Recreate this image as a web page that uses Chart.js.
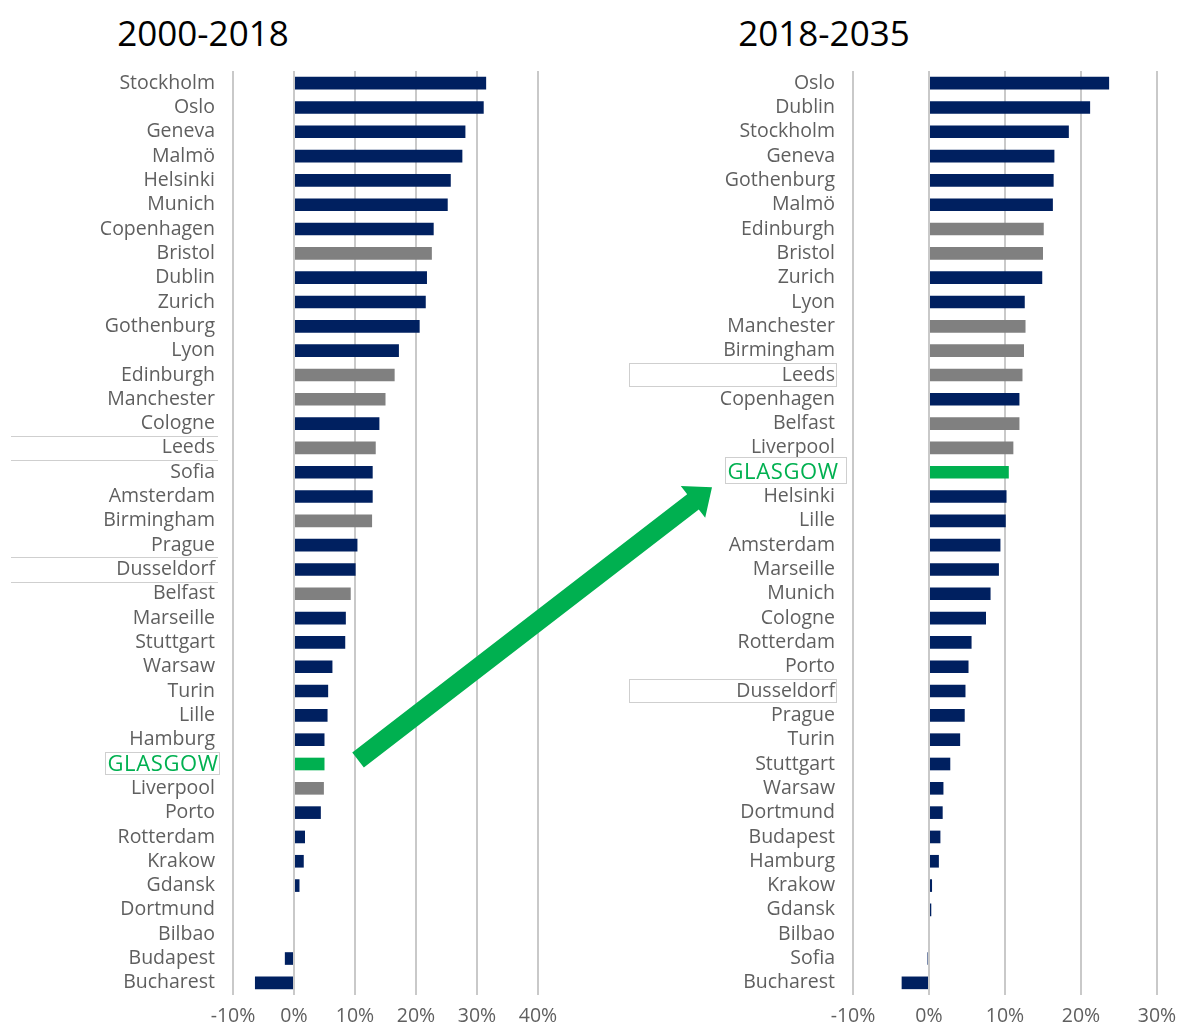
<!DOCTYPE html>
<html>
<head>
<meta charset="utf-8">
<script src="https://cdn.jsdelivr.net/npm/chart.js@4.4.1/dist/chart.umd.min.js"></script>
<style>
  html, body { margin:0; padding:0; background:#ffffff; }
  #wrap { position:relative; width:1179px; height:1027px; overflow:hidden; }
  .layer { position:absolute; left:0; top:0; width:1179px; height:1027px; }
  .title { position:absolute; font-family:"Open Sans", sans-serif; font-size:35px; color:#000; line-height:1; transform:translateX(-50%); white-space:nowrap; }
</style>
</head>
<body>
<div id="wrap">
  <div class="title" style="left:203px; top:15px;">2000-2018</div>
  <div class="title" style="left:824px; top:15px;">2018-2035</div>
  <canvas id="leftChart" class="layer" width="1179" height="1027"></canvas>
  <canvas id="rightChart" class="layer" width="1179" height="1027"></canvas>
</div>
<script>
// ---------- DATA ----------
const leftCities = ['Stockholm','Oslo','Geneva','Malmö','Helsinki','Munich','Copenhagen','Bristol','Dublin','Zurich','Gothenburg','Lyon','Edinburgh','Manchester','Cologne','Leeds','Sofia','Amsterdam','Birmingham','Prague','Dusseldorf','Belfast','Marseille','Stuttgart','Warsaw','Turin','Lille','Hamburg','GLASGOW','Liverpool','Porto','Rotterdam','Krakow','Gdansk','Dortmund','Bilbao','Budapest','Bucharest'];
const leftValues = [31.5,31.1,28.1,27.6,25.7,25.2,22.9,22.6,21.8,21.6,20.6,17.2,16.5,15.0,14.0,13.4,12.9,12.9,12.8,10.4,10.1,9.3,8.5,8.4,6.3,5.6,5.5,5.0,5.0,4.9,4.4,1.8,1.6,0.9,0,0,-1.5,-6.4];

const rightCities = ['Oslo','Dublin','Stockholm','Geneva','Gothenburg','Malmö','Edinburgh','Bristol','Zurich','Lyon','Manchester','Birmingham','Leeds','Copenhagen','Belfast','Liverpool','GLASGOW','Helsinki','Lille','Amsterdam','Marseille','Munich','Cologne','Rotterdam','Porto','Dusseldorf','Prague','Turin','Stuttgart','Warsaw','Dortmund','Budapest','Hamburg','Krakow','Gdansk','Bilbao','Sofia','Bucharest'];
const rightValues = [23.7,21.2,18.4,16.5,16.4,16.3,15.1,15.0,14.9,12.6,12.7,12.5,12.3,11.9,11.9,11.1,10.5,10.2,10.1,9.4,9.2,8.1,7.5,5.6,5.2,4.8,4.7,4.1,2.8,1.9,1.8,1.5,1.3,0.4,0.3,0,-0.2,-3.6];

const leftTicks = [-10,0,10,20,30,40];
const rightTicks = [-10,0,10,20,30];

const ukCities = ['Bristol','Edinburgh','Manchester','Leeds','Birmingham','Belfast','Liverpool'];
const highlightCity = 'GLASGOW';
const leftRuled = ['Leeds','Dusseldorf'];   // top/bottom rules around label
const rightBoxed = ['Leeds','Dusseldorf'];  // full boxes around label

// ---------- STYLE ----------
const NAVY = '#002060', GREY = '#808080', GREEN = '#00B050';
const LABEL = '#5f5f5f', GRID = '#c9c9c9', BOXLINE = '#cfcfcf';
const FONT = '"Open Sans", sans-serif';
const LABEL_SIZE = 19.5;

function barColors(cities){
  return cities.map(c => c === highlightCity ? GREEN : (ukCities.includes(c) ? GREY : NAVY));
}

function decorPlugin(cities, ruled, boxed, gBox){
  return {
    id:'decor',
    afterDraw(chart){
      const ctx = chart.ctx, ys = chart.scales.y, area = chart.chartArea;
      const half = ys.height / cities.length / 2;
      ctx.save();
      ctx.strokeStyle = BOXLINE; ctx.lineWidth = 1;
      ruled.forEach(c => {
        const y = ys.getPixelForValue(cities.indexOf(c));
        const x0 = area.left - 222, x1 = area.left - 15;
        ctx.beginPath();
        ctx.moveTo(x0, Math.round(y - half) + 0.5); ctx.lineTo(x1, Math.round(y - half) + 0.5);
        ctx.moveTo(x0, Math.round(y + half) + 0.5); ctx.lineTo(x1, Math.round(y + half) + 0.5);
        ctx.stroke();
      });
      boxed.forEach(c => {
        const y = ys.getPixelForValue(cities.indexOf(c));
        const x0 = area.left - 224, x1 = area.left - 17;
        ctx.strokeRect(x0 + 0.5, Math.round(y - half) + 0.5, x1 - x0, Math.round(2*half) - 1);
      });
      // GLASGOW label (wide, green) with box
      const gi = cities.indexOf(highlightCity);
      const gy = ys.getPixelForValue(gi);
      ctx.font = '22px ' + FONT;
      ctx.letterSpacing = '0.6px';
      ctx.fillStyle = GREEN;
      ctx.textAlign = 'right';
      ctx.textBaseline = 'middle';
      const textRight = area.left - 15 + 0.6;
      ctx.fillText(highlightCity, textRight, gy + 1);
      const w = ctx.measureText(highlightCity).width;
      ctx.letterSpacing = '0px';
      const bx1 = area.left - gBox.rightGap, bx0 = textRight - w - 3;
      ctx.strokeRect(Math.round(bx0) + 0.5, Math.round(gy - gBox.h/2 - gBox.dy) + 0.5, Math.round(bx1 - bx0), gBox.h);
      ctx.restore();
    }
  };
}

function makeChart(id, cities, values, ticks, padLeft, padRight, ruled, boxed, gBox, extraPlugins){
  return new Chart(document.getElementById(id), {
    type:'bar',
    data:{ labels:cities, datasets:[{ data:values, backgroundColor:barColors(cities), borderWidth:0, barPercentage:0.52, categoryPercentage:1 }] },
    options:{
      indexAxis:'y', responsive:false, animation:false, maintainAspectRatio:false,
      layout:{ padding:{ left:padLeft, right:padRight, top:71, bottom:0 } },
      plugins:{ legend:{display:false}, tooltip:{enabled:false}, title:{display:false} },
      scales:{
        x:{
          min:ticks[0], max:ticks[ticks.length-1],
          afterBuildTicks(scale){ scale.ticks = ticks.map(v => ({value:v})); },
          afterFit(scale){ scale.height = 32; scale.paddingLeft = 0; scale.paddingRight = 0; },
          grid:{ color:GRID, lineWidth:2, drawTicks:false },
          border:{ display:false },
          ticks:{ color:LABEL, padding:10, font:{ family:FONT, size:19.5 }, callback:v => v + '%' }
        },
        y:{
          afterFit(scale){ scale.width = 233; },
          grid:{ display:false, drawTicks:false },
          border:{ display:false },
          ticks:{
            padding:18, autoSkip:false,
            color:c => cities[c.index] === highlightCity ? 'rgba(0,0,0,0)' : LABEL,
            font:{ family:FONT, size:LABEL_SIZE }
          }
        }
      }
    },
    plugins:[decorPlugin(cities, ruled, boxed, gBox)].concat(extraPlugins || [])
  });
}

const leftChart = makeChart('leftChart', leftCities, leftValues, leftTicks, 0, 1179-538, leftRuled, [], {rightGap:14, h:22, dy:1}, []);

const arrowPlugin = {
  id:'arrow',
  afterDraw(chart){
    const ctx = chart.ctx;
    const ly = leftChart.scales.y, lx = leftChart.scales.x;
    const ry = chart.scales.y;
    const tail = { x: lx.getPixelForValue(10.5), y: ly.getPixelForValue(leftCities.indexOf(highlightCity)) - 4 };
    const tip  = { x: chart.chartArea.left - 141, y: ry.getPixelForValue(rightCities.indexOf(highlightCity)) + 15 };
    const dx = tip.x - tail.x, dy = tip.y - tail.y, L = Math.hypot(dx, dy);
    const ux = dx / L, uy = dy / L, nx = -uy, ny = ux;
    const sw = 9.5, hw = 20, hl = 24;
    const bx = tip.x - ux*hl, by = tip.y - uy*hl;
    ctx.save();
    ctx.fillStyle = GREEN;
    ctx.beginPath();
    ctx.moveTo(tail.x + nx*sw, tail.y + ny*sw);
    ctx.lineTo(bx + nx*sw, by + ny*sw);
    ctx.lineTo(bx + nx*hw, by + ny*hw);
    ctx.lineTo(tip.x, tip.y);
    ctx.lineTo(bx - nx*hw, by - ny*hw);
    ctx.lineTo(bx - nx*sw, by - ny*sw);
    ctx.lineTo(tail.x - nx*sw, tail.y - ny*sw);
    ctx.closePath();
    ctx.fill();
    ctx.restore();
  }
};

const rightChart = makeChart('rightChart', rightCities, rightValues, rightTicks, 620, 1179-1157, [], rightBoxed, {rightGap:7, h:26, dy:2}, [arrowPlugin]);
</script>
</body>
</html>
